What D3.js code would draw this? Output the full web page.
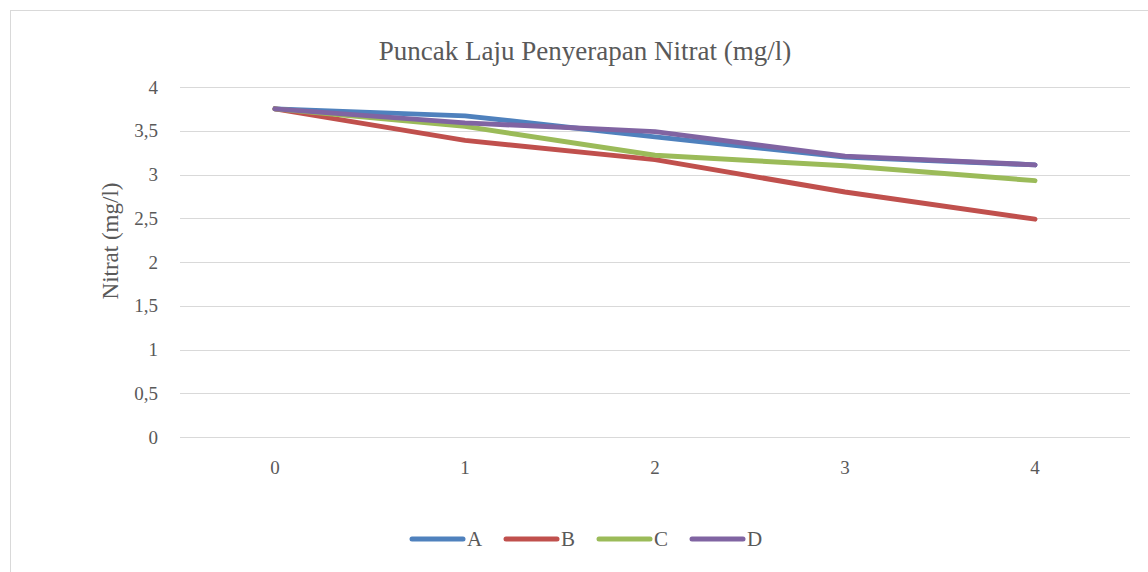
<!DOCTYPE html>
<html>
<head>
<meta charset="utf-8">
<script src="https://cdn.jsdelivr.net/npm/d3@7"></script>
<style>
  body { margin: 0; background: #fff; }
  svg { display: block; }
  text { font-family: "Liberation Serif", "DejaVu Serif", serif; }
</style>
</head>
<body>
<svg id="chart" width="1148" height="572"></svg>
<script>
let categories = ["0", "1", "2", "3", "4"];
let seriesNames = ["A", "B", "C", "D"];
let seriesA = [3.75, 3.67, 3.43, 3.20, 3.11];
let seriesB = [3.75, 3.39, 3.17, 2.80, 2.49];
let seriesC = [3.75, 3.55, 3.22, 3.10, 2.93];
let seriesD = [3.75, 3.59, 3.49, 3.21, 3.11];
let yTicks = [0, 0.5, 1, 1.5, 2, 2.5, 3, 3.5, 4];
let colors = ["#4f81bd", "#c0504d", "#9bbb59", "#8064a2"];

addEventListener("load", init);

function init() {
    let svg = d3.select("#chart");
    let width = 1148, height = 572;
    let left = 180, right = 1130, top = 87, bottom = 437;

    // chart frame
    svg.append("rect")
        .attr("x", 10.5).attr("y", 10.5)
        .attr("width", width).attr("height", height)
        .attr("fill", "none").attr("stroke", "#d9d9d9").attr("stroke-width", 1);

    let x = d3.scaleBand().domain(categories).range([left, right]);
    let y = d3.scaleLinear().domain([0, 4]).range([bottom, top]);

    let fmt = d => String(d).replace(".", ",");

    // gridlines
    svg.append("g").selectAll("line").data(yTicks).join("line")
        .attr("x1", left).attr("x2", right)
        .attr("y1", d => Math.round(y(d)) + 0.5).attr("y2", d => Math.round(y(d)) + 0.5)
        .attr("stroke", "#d9d9d9").attr("stroke-width", 1);

    // y tick labels
    svg.append("g").selectAll("text").data(yTicks).join("text")
        .attr("x", 158).attr("y", d => y(d))
        .attr("dy", "0.35em")
        .attr("text-anchor", "end")
        .attr("font-size", 19).attr("fill", "#595959")
        .text(fmt);

    // x tick labels
    svg.append("g").selectAll("text").data(categories).join("text")
        .attr("x", d => x(d) + x.bandwidth() / 2).attr("y", 467)
        .attr("dy", "0.35em")
        .attr("text-anchor", "middle")
        .attr("font-size", 19).attr("fill", "#595959")
        .text(d => d);

    // title
    svg.append("text")
        .attr("x", 585).attr("y", 60)
        .attr("text-anchor", "middle")
        .attr("font-size", 27).attr("fill", "#595959")
        .text("Puncak Laju Penyerapan Nitrat (mg/l)");

    // y axis title
    svg.append("text")
        .attr("transform", "translate(110,241) rotate(-90)")
        .attr("dy", "0.35em")
        .attr("text-anchor", "middle")
        .attr("font-size", 23).attr("fill", "#595959")
        .text("Nitrat (mg/l)");

    let allSeries = [seriesA, seriesB, seriesC, seriesD];
    let line = d3.line()
        .x((d, i) => x(categories[i]) + x.bandwidth() / 2)
        .y(d => y(d));

    svg.append("g").selectAll("path").data(allSeries).join("path")
        .attr("d", line)
        .attr("fill", "none")
        .attr("stroke", (d, i) => colors[i])
        .attr("stroke-width", 5)
        .attr("stroke-linecap", "round")
        .attr("stroke-linejoin", "round");

    // legend
    let legendX = [410, 504, 597, 690];
    let lg = svg.append("g").selectAll("g").data(seriesNames).join("g")
        .attr("transform", (d, i) => "translate(" + legendX[i] + ",539)");
    lg.append("line")
        .attr("x1", 2).attr("x2", 53)
        .attr("stroke", (d, i) => colors[i])
        .attr("stroke-width", 5)
        .attr("stroke-linecap", "round");
    lg.append("text")
        .attr("x", 57).attr("dy", "0.35em")
        .attr("font-size", 21).attr("fill", "#595959")
        .text(d => d);
}
</script>
</body>
</html>
